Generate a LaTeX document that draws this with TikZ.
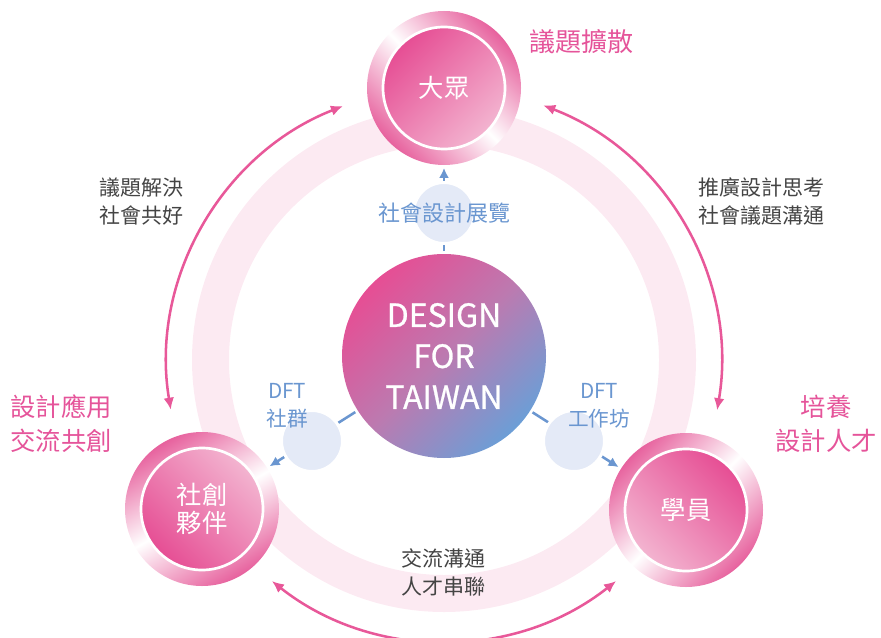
\documentclass[tikz,border=0pt]{standalone}
\usepackage{fontspec}
\newfontfamily\cjk{Noto Sans CJK TC}
\newfontfamily\cjkmid[FakeBold=0.8]{Noto Sans CJK TC}
\usetikzlibrary{arrows.meta}

\definecolor{deeppink}{RGB}{230,78,148}
\definecolor{softpink}{RGB}{243,180,208}
\definecolor{ringpink}{RGB}{231,98,158}
\definecolor{palepink}{RGB}{252,234,242}
\definecolor{textpink}{RGB}{229,84,154}
\definecolor{arcpink}{RGB}{232,88,153}
\definecolor{dftblue}{RGB}{108,158,214}
\definecolor{dftmauve}{RGB}{188,122,176}
\definecolor{labelblue}{RGB}{106,150,208}
\definecolor{bubblefill}{RGB}{228,234,247}
\definecolor{textgray}{RGB}{68,68,68}

\begin{document}
\begin{tikzpicture}[x=0.75pt, y=0.75pt,
	outer/.style={circle, minimum size=115.5pt, inner sep=0pt, top color=ringpink, bottom color=ringpink, middle color=white},
	inner/.style={circle, minimum size=91.5pt, inner sep=0pt, draw=white, line width=2pt, top color=deeppink, bottom color=softpink, text=white, align=center, font=\cjk\fontsize{19pt}{21pt}\selectfont},
	bubble/.style={circle, minimum size=45.75pt, inner sep=0pt, fill=bubblefill, draw=white, line width=2.25pt},
	link/.style={-{Latex[length=7.5pt, width=7.5pt]}, labelblue, line width=1.9pt, shorten <=2pt, shorten >=2pt},
	arcline/.style={{Latex[length=9pt, width=8pt]}-{Latex[length=9pt, width=8pt]}, arcpink, line width=1.9pt},
	side/.style={text=textpink, align=center, font=\cjk\fontsize{19pt}{25.5pt}\selectfont},
	note/.style={text=textgray, align=center, font=\cjk\fontsize{15.75pt}{21pt}\selectfont},
	tag/.style={text=labelblue, align=center, font=\cjk\fontsize{15.5pt}{21pt}\selectfont}]
	\useasboundingbox (0,0) rectangle (881,637);
	% faint band behind everything
	\coordinate (band) at (444,277);
	\draw[palepink, line width=27.75pt] (band) circle[radius=233.5];
	% pink arcs around the cycle
	\coordinate (hub) at (444,273);
	\coordinate (tlA) at ([shift={(111.4:277)}]hub);
	\coordinate (trA) at ([shift={(69:277)}]hub);
	\coordinate (bmA) at ([shift={(231.6:277)}]hub);
	\draw[arcline] (tlA) arc[start angle=111.4, end angle=189.5, radius=277];
	\draw[arcline] (trA) arc[start angle=69, end angle=-9.6, radius=277];
	\draw[arcline] (bmA) arc[start angle=231.6, end angle=308.4, radius=277];
	% three roles
	\node[outer, shading angle=-45] (crowd) at (444,549) {};
	\node[inner, shading angle=45] (crowdin) at (crowd) {大眾};
	\node[outer, shading angle=30] (partner) at (202,128) {};
	\node[inner, shading angle=135] (partnerin) at (partner) {社創\\夥伴};
	\node[outer, shading angle=45] (student) at (686,127) {};
	\node[inner, shading angle=-45] (studentin) at (student) {學員};
	% centre
	\node[circle, minimum size=153pt, inner sep=0pt, top color=deeppink, bottom color=dftblue, middle color=dftmauve, shading angle=45, text=white, align=center, font=\cjkmid\fontsize{24pt}{30.75pt}\selectfont] (dft) at (444,281) {DESIGN\\FOR\\TAIWAN};
	\draw[link] (dft) -- (crowd);
	\draw[link] (dft) -- (partner);
	\draw[link] (dft) -- (student);
	\node[bubble] (expo) at (444,424) {};
	\node[bubble] (community) at (312,196) {};
	\node[bubble] (workshop) at (574,196) {};
	\node[tag, font=\cjk\fontsize{16.5pt}{21pt}\selectfont] (expolabel) at (expo) {社會設計展覽};
	\node[tag] (communitylabel) at (287,231) {DFT\\社群};
	\node[tag] (workshoplabel) at (599,231) {DFT\\工作坊};
	% texts round the cycle
	\node[side, font=\cjk\fontsize{19.5pt}{25.5pt}\selectfont] (spread) at (581,595) {議題擴散};
	\node[side] (apply) at (61,213) {設計應用\\交流共創};
	\node[side] (train) at (826,213) {培養\\設計人才};
	\node[note] (solve) at (141,435) {議題解決\\社會共好};
	\node[note] (promote) at (761,435) {推廣設計思考\\社會議題溝通};
	\node[note] (connect) at (443,64) {交流溝通\\人才串聯};
\end{tikzpicture}
\end{document}
